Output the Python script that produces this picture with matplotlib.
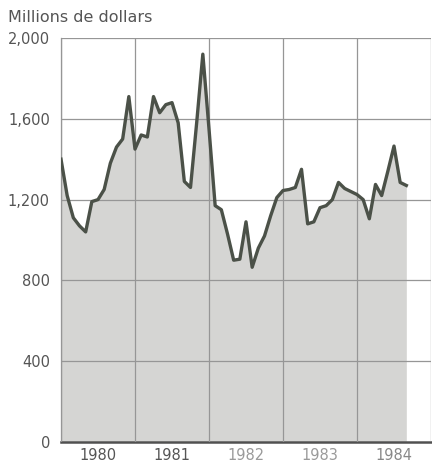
import matplotlib.pyplot as plt

# monthly values, Jan 1980 to Sep 1984 (millions of dollars)
values = [1400, 1220, 1110, 1070, 1040, 1190, 1200, 1250, 1380, 1460, 1500, 1710,
          1450, 1520, 1510, 1710, 1630, 1670, 1680, 1580, 1290, 1260, 1580, 1920,
          1550, 1170, 1150, 1030, 900, 905, 1090, 865, 960, 1020, 1120, 1210,
          1245, 1250, 1260, 1350, 1080, 1090, 1160, 1170, 1200, 1285, 1255, 1240,
          1225, 1200, 1105, 1275, 1220, 1340, 1465, 1285, 1270]
months = list(range(len(values)))

years = ['1980', '1981', '1982', '1983', '1984']
year_colors = ['#555555', '#555555', '#9a9a9a', '#9a9a9a', '#888888']
y_ticks = [0, 400, 800, 1200, 1600, 2000]
y_labels = ['0', '400', '800', '1,200', '1,600', '2,000']

fig = plt.figure(figsize=(4.32, 4.62), dpi=100)
ax = fig.add_axes([61 / 432, 20 / 462, 370 / 432, 404 / 462])

ax.fill_between(months, values, 0, color='#d5d5d3', zorder=1, linewidth=0)
ax.plot(months, values, color='#4b5148', linewidth=2.4, zorder=3)

ax.set_xlim(0, 60)
ax.set_ylim(0, 2000)

ax.set_xticks([0, 12, 24, 36, 48, 60])
ax.set_xticklabels([])
ax.set_xticks([6, 18, 30, 42, 54], minor=True)
ax.set_xticklabels(years, minor=True, fontsize=10.5)
for lab, c in zip(ax.get_xticklabels(minor=True), year_colors):
    lab.set_color(c)

ax.set_yticks(y_ticks)
ax.set_yticklabels(y_labels, fontsize=10.5, color='#555555')

ax.tick_params(axis='both', which='both', length=0)
ax.tick_params(axis='x', which='minor', pad=4)
ax.tick_params(axis='y', pad=8)

ax.grid(True, which='major', color='#969696', linewidth=0.9, zorder=2)
ax.set_axisbelow(False)

for side in ['top', 'right']:
    ax.spines[side].set_visible(False)
ax.spines['left'].set_color('#8f8f8f')
ax.spines['left'].set_linewidth(0.9)
ax.spines['bottom'].set_color('#505050')
ax.spines['bottom'].set_linewidth(1.8)

fig.text(8 / 432, 1 - 17 / 462, 'Millions de dollars', fontsize=11.5,
         color='#555555', va='center', ha='left')

fig.savefig('out.png', dpi=100)
